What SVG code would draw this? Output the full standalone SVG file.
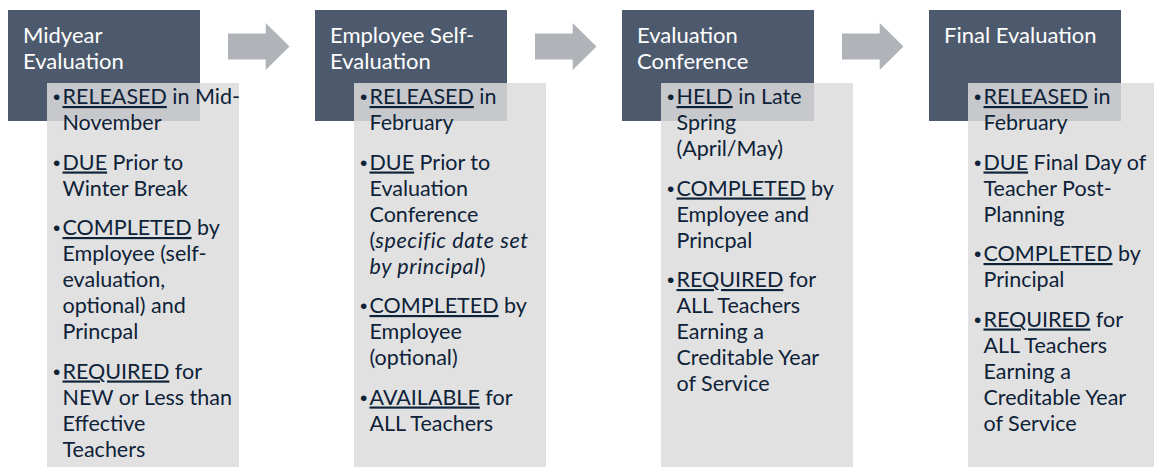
<svg xmlns="http://www.w3.org/2000/svg" width="1154" height="468" viewBox="0 0 1154 468">
<style>
.hdr{fill:#4d5a6d}
.box{fill:#dcdcdc;fill-opacity:0.85}
.arr{fill:#b0b3b8}
.ht{font-family:Lato,"Liberation Sans",sans-serif;font-size:22px;fill:#ffffff}
.bt{font-family:Lato,"Liberation Sans",sans-serif;font-size:21.5px;fill:#0e2238}
.bu{font-family:"Liberation Sans",Arial,sans-serif;font-size:21px;fill:#0e2238}
.u{text-decoration:underline}
.i{font-style:italic;letter-spacing:0.6px}
</style>
<rect width="1154" height="468" fill="#ffffff"/>
<g id="connectors">
<path class="arr" d="M228,33.5 H265.7 V23 L289.5,46.5 L265.7,70 V59.5 H228 Z"/>
<path class="arr" d="M535,33.5 H572.7 V23 L596.5,46.5 L572.7,70 V59.5 H535 Z"/>
<path class="arr" d="M842,33.5 H879.7 V23 L903.5,46.5 L879.7,70 V59.5 H842 Z"/>
</g>
<g id="node-midyear">
<rect class="hdr" x="8" y="10" width="192" height="111"/>
<text class="ht" x="23" y="43">Midyear</text>
<text class="ht" x="23" y="69">Evaluation</text>
<rect class="box" x="47" y="83" width="192" height="384"/>
<text class="bu" x="53" y="104">•</text>
<text class="bt" x="62.5" y="104"><tspan class="u">RELEASED</tspan> in Mid-</text>
<text class="bt" x="62.5" y="130">November</text>
<text class="bu" x="53" y="169.5">•</text>
<text class="bt" x="62.5" y="169.5"><tspan class="u">DUE</tspan> Prior to</text>
<text class="bt" x="62.5" y="195.5">Winter Break</text>
<text class="bu" x="53" y="235">•</text>
<text class="bt" x="62.5" y="235"><tspan class="u">COMPLETED</tspan> by</text>
<text class="bt" x="62.5" y="261">Employee (self-</text>
<text class="bt" x="62.5" y="287">evaluation,</text>
<text class="bt" x="62.5" y="313">optional) and</text>
<text class="bt" x="62.5" y="339">Princpal</text>
<text class="bu" x="53" y="378.5">•</text>
<text class="bt" x="62.5" y="378.5"><tspan class="u">REQUIRED</tspan> for</text>
<text class="bt" x="62.5" y="404.5">NEW or Less than</text>
<text class="bt" x="62.5" y="430.5">Effective</text>
<text class="bt" x="62.5" y="456.5">Teachers</text>
</g>
<g id="node-self-evaluation">
<rect class="hdr" x="315" y="10" width="192" height="111"/>
<text class="ht" x="330" y="43">Employee Self-</text>
<text class="ht" x="330" y="69">Evaluation</text>
<rect class="box" x="354" y="83" width="192" height="384"/>
<text class="bu" x="360" y="104">•</text>
<text class="bt" x="369.5" y="104"><tspan class="u">RELEASED</tspan> in</text>
<text class="bt" x="369.5" y="130">February</text>
<text class="bu" x="360" y="169.5">•</text>
<text class="bt" x="369.5" y="169.5"><tspan class="u">DUE</tspan> Prior to</text>
<text class="bt" x="369.5" y="195.5">Evaluation</text>
<text class="bt" x="369.5" y="221.5">Conference</text>
<text class="bt" x="369.5" y="247.5">(<tspan class="i">specific date set</tspan></text>
<text class="bt" x="369.5" y="273.5"><tspan class="i">by principal</tspan>)</text>
<text class="bu" x="360" y="313">•</text>
<text class="bt" x="369.5" y="313"><tspan class="u">COMPLETED</tspan> by</text>
<text class="bt" x="369.5" y="339">Employee</text>
<text class="bt" x="369.5" y="365">(optional)</text>
<text class="bu" x="360" y="404.5">•</text>
<text class="bt" x="369.5" y="404.5"><tspan class="u">AVAILABLE</tspan> for</text>
<text class="bt" x="369.5" y="430.5">ALL Teachers</text>
</g>
<g id="node-conference">
<rect class="hdr" x="622" y="10" width="192" height="111"/>
<text class="ht" x="637" y="43">Evaluation</text>
<text class="ht" x="637" y="69">Conference</text>
<rect class="box" x="661" y="83" width="192" height="384"/>
<text class="bu" x="667" y="104">•</text>
<text class="bt" x="676.5" y="104"><tspan class="u">HELD</tspan> in Late</text>
<text class="bt" x="676.5" y="130">Spring</text>
<text class="bt" x="676.5" y="156">(April/May)</text>
<text class="bu" x="667" y="195.5">•</text>
<text class="bt" x="676.5" y="195.5"><tspan class="u">COMPLETED</tspan> by</text>
<text class="bt" x="676.5" y="221.5">Employee and</text>
<text class="bt" x="676.5" y="247.5">Princpal</text>
<text class="bu" x="667" y="287">•</text>
<text class="bt" x="676.5" y="287"><tspan class="u">REQUIRED</tspan> for</text>
<text class="bt" x="676.5" y="313">ALL Teachers</text>
<text class="bt" x="676.5" y="339">Earning a</text>
<text class="bt" x="676.5" y="365">Creditable Year</text>
<text class="bt" x="676.5" y="391">of Service</text>
</g>
<g id="node-final">
<rect class="hdr" x="929" y="10" width="192" height="111"/>
<text class="ht" x="944" y="43">Final Evaluation</text>
<rect class="box" x="968" y="83" width="192" height="384"/>
<text class="bu" x="974" y="104">•</text>
<text class="bt" x="983.5" y="104"><tspan class="u">RELEASED</tspan> in</text>
<text class="bt" x="983.5" y="130">February</text>
<text class="bu" x="974" y="169.5">•</text>
<text class="bt" x="983.5" y="169.5"><tspan class="u">DUE</tspan> Final Day of</text>
<text class="bt" x="983.5" y="195.5">Teacher Post-</text>
<text class="bt" x="983.5" y="221.5">Planning</text>
<text class="bu" x="974" y="261">•</text>
<text class="bt" x="983.5" y="261"><tspan class="u">COMPLETED</tspan> by</text>
<text class="bt" x="983.5" y="287">Principal</text>
<text class="bu" x="974" y="326.5">•</text>
<text class="bt" x="983.5" y="326.5"><tspan class="u">REQUIRED</tspan> for</text>
<text class="bt" x="983.5" y="352.5">ALL Teachers</text>
<text class="bt" x="983.5" y="378.5">Earning a</text>
<text class="bt" x="983.5" y="404.5">Creditable Year</text>
<text class="bt" x="983.5" y="430.5">of Service</text>
</g>
</svg>
